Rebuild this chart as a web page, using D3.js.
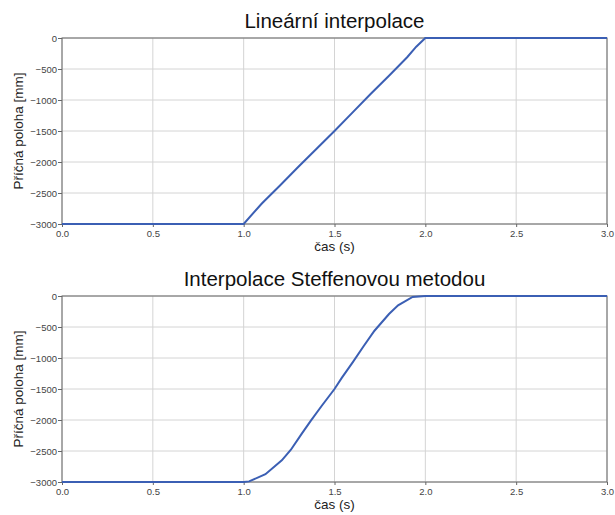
<!DOCTYPE html>
<html lang="cs">
<head>
<meta charset="UTF-8">
<title>Příčná poloha</title>
<style>
    body { background: white; margin: 0; padding: 0; }
    text { font-family: "Liberation Sans", Arial, sans-serif; }
    .tick text { font-size: 9.5px; fill: #444; }
    .tick line { stroke: #666; }
    .grid line { stroke: #d4d4d4; stroke-width: 1; }
    .frame { fill: none; stroke: #666; stroke-width: 1; }
    .curve { fill: none; stroke: #3b5fb4; stroke-width: 2; }
</style>
</head>
<body>
<script src="https://cdn.jsdelivr.net/npm/d3@7/dist/d3.min.js"></script>
<script>
    var titles = ['Lineární interpolace', 'Interpolace Steffenovou metodou'];
    var xLabel = 'čas (s)';
    var yLabel = 'Příčná poloha [mm]';

    var xTicks = [0, 0.5, 1.0, 1.5, 2.0, 2.5, 3.0];
    var yTicks = [0, -500, -1000, -1500, -2000, -2500, -3000];

    // lineární interpolace
    var linTime = [0, 1.0, 1.1, 1.2, 1.3, 1.4, 1.5, 1.6, 1.7, 1.8, 1.9, 1.95, 2.0, 3.0];
    var linPos = [-3000, -3000, -2670, -2380, -2080, -1790, -1500, -1200, -900, -610, -310, -140, 0, 0];

    // Steffenova metoda
    var stefTime = [0, 1.0, 1.03, 1.12, 1.21, 1.26, 1.32, 1.37, 1.43, 1.5, 1.54, 1.6, 1.66, 1.72, 1.8, 1.85, 1.93, 2.0, 3.0];
    var stefPos = [-3000, -3000, -2990, -2875, -2650, -2480, -2220, -2010, -1770, -1500, -1320, -1070, -810, -560, -290, -150, -15, 0, 0];

    var series = [
        { time: linTime, pos: linPos },
        { time: stefTime, pos: stefPos }
    ];

    var svg = d3.select('body').append('svg')
        .attr('width', 615)
        .attr('height', 515);

    var left = 62, right = 607, plotH = 186;
    var tops = [38, 296];

    var x = d3.scaleLinear().domain([0, 3]).range([left, right]);

    series.forEach(function(s, k) {
        var top = tops[k];
        var y = d3.scaleLinear().domain([-3000, 0]).range([top + plotH, top]);
        var g = svg.append('g');

        // mřížka
        g.append('g').attr('class', 'grid')
            .selectAll('line').data(xTicks).enter().append('line')
            .attr('x1', function(d) { return x(d); })
            .attr('x2', function(d) { return x(d); })
            .attr('y1', top).attr('y2', top + plotH);
        g.append('g').attr('class', 'grid')
            .selectAll('line').data(yTicks).enter().append('line')
            .attr('x1', left).attr('x2', right)
            .attr('y1', function(d) { return y(d); })
            .attr('y2', function(d) { return y(d); });

        var xAxis = g.append('g')
            .attr('transform', 'translate(0,' + (top + plotH) + ')')
            .call(d3.axisBottom(x).tickValues(xTicks).tickFormat(d3.format('.1f')).tickSize(3).tickPadding(3));
        xAxis.select('.domain').remove();

        var yAxis = g.append('g')
            .attr('transform', 'translate(' + left + ',0)')
            .call(d3.axisLeft(y).tickValues(yTicks).tickFormat(d3.format('d')).tickSize(4).tickPadding(1));
        yAxis.select('.domain').remove();

        g.append('rect').attr('class', 'frame')
            .attr('x', left).attr('y', top)
            .attr('width', right - left).attr('height', plotH);

        var line = d3.line()
            .x(function(d, i) { return x(s.time[i]); })
            .y(function(d) { return y(d); });

        g.append('path').attr('class', 'curve').attr('d', line(s.pos));

        g.append('text')
            .attr('x', (left + right) / 2).attr('y', top - 10.5)
            .attr('text-anchor', 'middle')
            .style('font-size', '20.5px').attr('fill', '#111')
            .text(titles[k]);

        g.append('text')
            .attr('x', (left + right) / 2).attr('y', top + plotH + 27)
            .attr('text-anchor', 'middle')
            .style('font-size', '13.5px').attr('fill', '#222')
            .text(xLabel);

        g.append('text')
            .attr('transform', 'translate(23,' + (top + plotH / 2) + ') rotate(-90)')
            .attr('text-anchor', 'middle')
            .style('font-size', '13.5px').attr('fill', '#222')
            .text(yLabel);
    });
</script>
</body>
</html>
